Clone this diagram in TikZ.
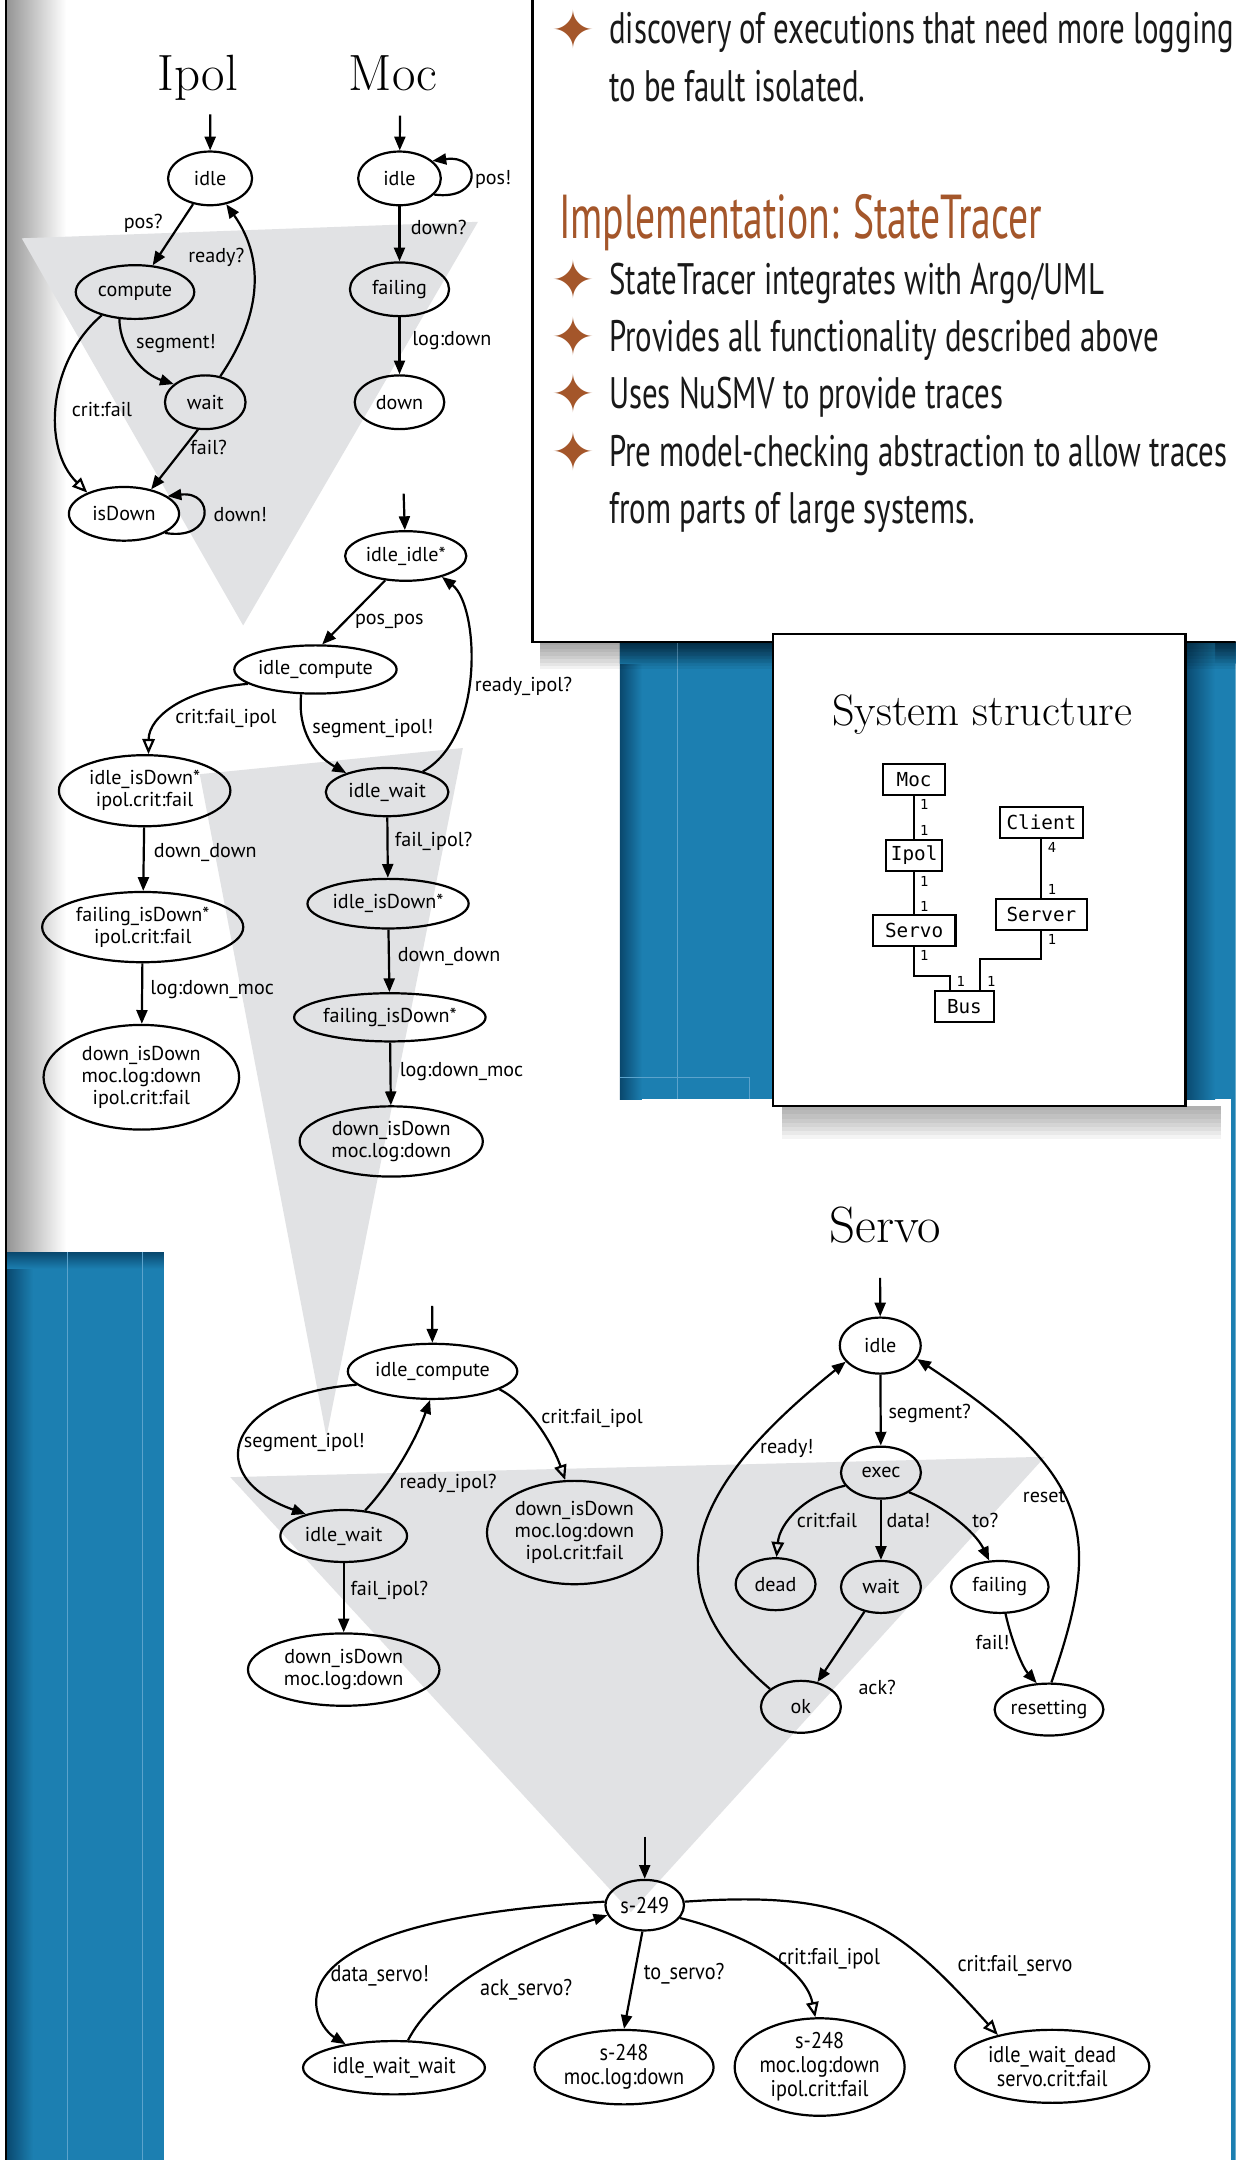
\documentclass[tikz,border=0pt]{standalone}
\usepackage{xcolor}
\usepackage{fontspec}
\usepackage{tikz}
\usetikzlibrary{arrows.meta, shapes.geometric, positioning}

\newfontfamily\diagfont{PT Sans}
\newfontfamily\narrowfont[FakeStretch=0.89]{PT Sans}
\newfontfamily\posterfont[FakeStretch=0.70]{PT Sans}
\newfontfamily\headfont[FakeStretch=0.64]{PT Sans}
\newfontfamily\codefont{DejaVu Sans Mono}
\newfontfamily\glyphfont{DejaVu Sans}

\definecolor{posterblue}{RGB}{28,127,177}
\definecolor{deepblue}{RGB}{9,72,110}
\definecolor{gridblue}{RGB}{92,163,204}
\definecolor{funnel}{RGB}{225,226,228}
\definecolor{rust}{RGB}{164,86,42}

\begin{document}
\begin{tikzpicture}[x=1pt, y=1pt,
	st/.style={draw, ellipse, line width=1.6pt, inner sep=0pt, minimum width=58pt, minimum height=38pt, align=center, font=\diagfont\fontsize{14.6}{16}\selectfont},
	nst/.style={st, font=\narrowfont\fontsize{16.5}{17.5}\selectfont},
	tr/.style={line width=1.6pt, -{Triangle[length=10pt, width=8pt]}},
	crit/.style={line width=1.6pt, -{Triangle[open, length=11pt, width=9pt]}},
	lbl/.style={inner sep=0pt, font=\diagfont\fontsize{14.6}{16}\selectfont},
	nlbl/.style={inner sep=0pt, font=\narrowfont\fontsize{16.5}{17.5}\selectfont},
	ttl/.style={anchor=base, inner sep=0pt, font=\fontsize{37}{40}\selectfont},
	cls/.style={draw, line width=1.5pt, inner sep=0pt, minimum height=23pt, font=\codefont\fontsize{14}{16}\selectfont},
	mult/.style={inner sep=0pt, font=\codefont\fontsize{10}{11}\selectfont},
	conn/.style={line width=1.5pt},
	bul/.style={anchor=base west, inner sep=0pt, text=black!90, font=\posterfont\fontsize{32}{36}\selectfont},
	bstar/.style={inner sep=0pt, text=rust, font=\glyphfont\fontsize{38}{38}\selectfont},
]
	\useasboundingbox (0,0) rectangle (897,-1568);
	\clip (0,0) rectangle (897,-1568);

	\fill[white] (0,0) rectangle (897,-1568);
	\shade[left color=black!42, right color=white] (4.4,0) rectangle (48,-909);
	\fill[posterblue] (4.4,-909) rectangle (119,-1568);
	\shade[left color=deepblue, right color=posterblue] (4.4,-909) rectangle (24,-1568);
	\shade[top color=deepblue, bottom color=posterblue] (4.4,-909) rectangle (119,-921);
	\draw[gridblue, line width=.6pt] (49,-909) -- (49,-1568) (103.5,-909) -- (103.5,-1568);
	\fill[posterblue] (450,-466) rectangle (897,-798);
	\shade[left color=deepblue, right color=posterblue] (450,-466) rectangle (466,-798);
	\shade[top color=deepblue, bottom color=posterblue] (450,-466) rectangle (897,-482);
	\shade[left color=deepblue, right color=posterblue] (860,-466) rectangle (882,-798);
	\draw[gridblue, line width=.6pt] (492,-466) -- (492,-798) (450,-782) -- (544,-782) -- (544,-798);
	\fill[posterblue] (893.8,-798) rectangle (897,-1568);
	\draw[line width=1.5pt] (4.4,0) -- (4.4,-1568);

	\fill[funnel] (15.8,-173) -- (347,-161) -- (176.5,-454) -- cycle;
	\fill[funnel] (145,-562) -- (336,-543) -- (237,-1043) -- cycle;
	\fill[funnel] (167.2,-1072.3) -- (758.5,-1057.5) -- (458,-1388) -- cycle;

	\foreach \k in {1,...,8}
		\fill[black, opacity=.05] (392,-466) rectangle (897,{-466-2.5*\k});
	\foreach \k in {1,...,8}
		\fill[black, opacity=.045] (568,-803) rectangle (886,{-803-3*\k});
	\draw[fill=white, line width=1.8pt] (386.7,5) rectangle (905,-466);
	\draw[fill=white, line width=1.8pt] (561.2,-460.4) rectangle (860.6,-803);

	\node[bstar] (s1) at (416.5,-21) {✦};
	\node[bul] (p1) at (442,-31.6) {discovery of executions that need more logging};
	\node[bul] (p2) at (442,-73.7) {to be fault isolated.};
	\node[bul, text=rust, font=\headfont\fontsize{45}{48}\selectfont] (impl) at (405.6,-173) {Implementation: StateTracer};
	\node[bstar] (s2) at (416.5,-203.1) {✦};
	\node[bul] (p3) at (442,-213.6) {StateTracer integrates with Argo/UML};
	\node[bstar] (s3) at (416.5,-244.5) {✦};
	\node[bul] (p4) at (442,-255) {Provides all functionality described above};
	\node[bstar] (s4) at (416.5,-285.8) {✦};
	\node[bul] (p5) at (442,-296.3) {Uses NuSMV to provide traces};
	\node[bstar] (s5) at (416.5,-328) {✦};
	\node[bul] (p6) at (442,-338.5) {Pre model-checking abstraction to allow traces};
	\node[bul] (p7) at (442,-379.7) {from parts of large systems.};

	\node[ttl, font=\fontsize{32}{34}\selectfont] (tsys) at (713,-526.5) {System structure};
	\node[cls, minimum width=45pt] (smoc) at (663.6,-565.9) {Moc};
	\node[cls, minimum width=40.5pt] (sipol) at (663.6,-621) {Ipol};
	\node[cls, minimum width=60pt] (sservo) at (663.6,-675.5) {Servo};
	\node[cls, minimum width=60pt] (sclient) at (756,-597) {Client};
	\node[cls, minimum width=65.6pt] (sserver) at (756,-663.9) {Server};
	\node[cls, minimum width=43pt] (sbus) at (700.1,-730.7) {Bus};
	\coordinate (bendA) at (663.6,-708.4);
	\coordinate (bendB) at (756,-696.2);
	\draw[conn] (smoc) -- (sipol);
	\draw[conn] (sipol) -- (sservo);
	\draw[conn] (sclient) -- (sserver);
	\draw[conn] (sservo) -- (bendA) -| ([xshift=-10.6pt]sbus.north);
	\draw[conn] (sserver) -- (bendB) -| ([xshift=11.4pt]sbus.north);
	\node[mult] (m1) at (671,-584.3) {1};
	\node[mult] (m2) at (671,-602.9) {1};
	\node[mult] (m3) at (671,-639.7) {1};
	\node[mult] (m4) at (671,-658.1) {1};
	\node[mult] (m5) at (763.7,-615.4) {4};
	\node[mult] (m6) at (763.7,-645.7) {1};
	\node[mult] (m7) at (763.7,-682) {1};
	\node[mult] (m8) at (671,-693.6) {1};
	\node[mult] (m9) at (697.5,-712.3) {1};
	\node[mult] (m10) at (719.5,-712.3) {1};

	\node[ttl] (tipol) at (143.5,-65.6) {Ipol};
	\node[ttl] (tmoc) at (285.5,-65.6) {Moc};
	\node[st, minimum width=61pt, minimum height=39pt] (iidle) at (152.5,-129.5) {idle};
	\node[st, minimum width=86pt, minimum height=39pt] (icomp) at (98,-212) {compute};
	\node[st, minimum width=58.5pt, minimum height=39pt] (iwait) at (149,-292) {wait};
	\node[st, minimum width=80pt, minimum height=39pt] (idown) at (90,-373) {isDown};
	\coordinate (iinit) at (152.6,-83);
	\draw[tr] (iinit) -- (iidle);
	\draw[tr] (iidle) -- (icomp);
	\draw[tr] (iwait.60) .. controls (188,-232) and (194,-190) .. (iidle.-58);
	\draw[tr] (icomp.-120) .. controls (87,-255) and (105,-272) .. (iwait.150);
	\draw[crit] (icomp.-145) .. controls (35,-262) and (30,-325) .. (idown.150);
	\draw[tr] (iwait.-105) -- (idown.42);
	\draw[tr] (idown.-25) .. controls (156,-393) and (156,-356) .. (idown.22);
	\node[lbl] (l1) at (104,-162) {pos?};
	\node[lbl] (l2) at (157,-187) {ready?};
	\node[lbl] (l3) at (127.7,-249.4) {segment!};
	\node[lbl] (l4) at (74,-297.6) {crit:fail};
	\node[lbl] (l5) at (151.5,-324.7) {fail?};
	\node[lbl] (l6) at (174.5,-373.5) {down!};

	\node[st, minimum width=60pt, minimum height=39pt] (midle) at (290,-129.5) {idle};
	\node[st, minimum width=72pt, minimum height=39pt] (mfail) at (290,-210) {failing};
	\node[st, minimum width=65pt, minimum height=39pt] (mdown) at (290,-292) {down};
	\coordinate (minit) at (290.4,-84);
	\draw[tr] (minit) -- (midle);
	\draw[tr] (midle.-25) .. controls (350,-146) and (350,-112) .. (midle.28);
	\draw[tr] (midle) -- (mfail);
	\draw[tr] (mfail) -- (mdown);
	\node[lbl] (l7) at (358,-130) {pos!};
	\node[lbl] (l8) at (318.5,-165) {down?};
	\node[lbl] (l9) at (328,-247) {log:down};

	\node[st, minimum width=88pt, minimum height=36pt] (cii) at (294.5,-403.6) {idle\_idle*};
	\node[st, minimum width=116pt, minimum height=35pt] (cic) at (229,-486) {idle\_compute};
	\node[st, minimum width=124.5pt, minimum height=51.6pt] (cid) at (105,-574) {idle\_isDown*\\ipol.crit:fail};
	\node[st, minimum width=89pt, minimum height=35pt] (ciw) at (281,-575) {idle\_wait};
	\node[st, minimum width=146pt, minimum height=51pt] (cfd) at (103.6,-673) {failing\_isDown*\\ipol.crit:fail};
	\node[st, minimum width=117pt, minimum height=36pt] (cid2) at (281.7,-656) {idle\_isDown*};
	\node[st, minimum width=142pt, minimum height=76pt] (cdd) at (102.6,-782) {down\_isDown\\moc.log:down\\ipol.crit:fail};
	\node[st, minimum width=139pt, minimum height=35pt] (cfd2) at (283,-738.5) {failing\_isDown*};
	\node[st, minimum width=133pt, minimum height=51pt] (cdd2) at (284,-828.6) {down\_isDown\\moc.log:down};
	\coordinate (cinit) at (293,-358.4);
	\draw[tr] (cinit) -- (cii);
	\draw[tr] (cii.-130) -- (cic.75);
	\draw[tr] (ciw.30) .. controls (352,-535) and (348,-440) .. (cii.-30);
	\draw[crit] (cic.-168) .. controls (135,-500) and (108,-520) .. (cid.84);
	\draw[tr] (cic.-120) .. controls (216,-530) and (228,-548) .. (ciw.155);
	\draw[tr] (cid) -- (cfd);
	\draw[tr] (cfd) -- (cdd);
	\draw[tr] (ciw) -- (cid2);
	\draw[tr] (cid2) -- (cfd2);
	\draw[tr] (cfd2) -- (cdd2);
	\node[lbl] (l10) at (282.6,-451) {pos\_pos};
	\node[lbl] (l11) at (380,-498) {ready\_ipol?};
	\node[lbl] (l12) at (164,-521.5) {crit:fail\_ipol};
	\node[lbl] (l13) at (270.6,-529) {segment\_ipol!};
	\node[lbl] (l14) at (149,-619) {down\_down};
	\node[lbl] (l15) at (314.8,-610.8) {fail\_ipol?};
	\node[lbl] (l16) at (326,-694) {down\_down};
	\node[lbl] (l17) at (154,-718) {log:down\_moc};
	\node[lbl] (l18) at (335,-778) {log:down\_moc};

	\node[st, minimum width=123pt, minimum height=40pt] (bic) at (314,-995.5) {idle\_compute};
	\node[st, minimum width=92pt, minimum height=37.7pt] (biw) at (249.5,-1115) {idle\_wait};
	\node[st, minimum width=127pt, minimum height=75pt] (bdd3) at (417,-1112.5) {down\_isDown\\moc.log:down\\ipol.crit:fail};
	\node[st, minimum width=139pt, minimum height=52.5pt] (bdd2) at (249.5,-1212) {down\_isDown\\moc.log:down};
	\coordinate (binit) at (313.7,-948);
	\draw[tr] (binit) -- (bic);
	\draw[tr] (bic.-170) .. controls (165,-1012) and (145,-1072) .. (biw.150);
	\draw[tr] (biw.50) .. controls (285,-1075) and (302,-1045) .. (bic.-95);
	\draw[crit] (bic.-15) .. controls (385,-1020) and (402,-1050) .. (bdd3.100);
	\draw[tr] (biw) -- (bdd2);
	\node[lbl] (l19) at (220.9,-1046.9) {segment\_ipol!};
	\node[lbl] (l20) at (325.3,-1076.8) {ready\_ipol?};
	\node[lbl] (l21) at (429.8,-1029.8) {crit:fail\_ipol};
	\node[lbl] (l22) at (282.6,-1154.7) {fail\_ipol?};

	\node[ttl] (tservo) at (642.7,-902) {Servo};
	\node[st, minimum width=58.7pt, minimum height=40.7pt] (sidle) at (639,-976.8) {idle};
	\node[st, minimum height=37.7pt] (sexec) at (639.5,-1069) {exec};
	\node[st, minimum height=37.7pt] (sdead) at (563,-1150) {dead};
	\node[st, minimum height=37.7pt] (swait) at (639.5,-1152) {wait};
	\node[st, minimum width=70.8pt, minimum height=37.7pt] (sfail) at (725.8,-1152) {failing};
	\node[st, minimum height=37.7pt] (sok) at (581.4,-1239) {ok};
	\node[st, minimum width=79pt, minimum height=37.7pt] (sreset) at (761.5,-1241) {resetting};
	\coordinate (sinit) at (638.9,-927.7);
	\draw[tr] (sinit) -- (sidle);
	\draw[tr] (sidle) -- (sexec);
	\draw[crit] (sexec.-160) .. controls (585,-1085) and (566,-1105) .. (sdead.88);
	\draw[tr] (sexec) -- (swait);
	\draw[tr] (sexec.-35) .. controls (685,-1093) and (708,-1112) .. (sfail.112);
	\draw[tr] (swait) -- (sok);
	\draw[tr] (sok.150) .. controls (470,-1150) and (500,-1080) .. (sidle.-155);
	\draw[tr] (sfail.-78) .. controls (734,-1190) and (742,-1210) .. (sreset.115);
	\draw[tr] (sreset.85) .. controls (800,-1115) and (795,-1072) .. (sidle.-20);
	\node[lbl] (l23) at (674.9,-1025.8) {segment?};
	\node[lbl] (l24) at (571.2,-1051.5) {ready!};
	\node[lbl] (l25) at (758,-1086.2) {reset};
	\node[lbl] (l26) at (600.3,-1103.7) {crit:fail};
	\node[lbl] (l27) at (659.5,-1103.7) {data!};
	\node[lbl] (l28) at (715.3,-1103.7) {to?};
	\node[lbl] (l29) at (720.5,-1192.4) {fail!};
	\node[lbl] (l30) at (636.8,-1225) {ack?};

	\node[nst, minimum width=57pt, minimum height=36.7pt] (t249) at (468,-1383) {s-249};
	\node[nst, minimum width=132pt, minimum height=38.7pt] (tww) at (286,-1501) {idle\_wait\_wait};
	\node[nst, minimum width=130pt, minimum height=54pt] (t248a) at (453,-1500.6) {s-248\\moc.log:down};
	\node[nst, minimum width=120pt, minimum height=61.6pt] (t248b) at (595,-1500.5) {s-248\\moc.log:down\\ipol.crit:fail};
	\node[nst, minimum width=141pt, minimum height=53pt] (twd) at (763.8,-1500) {idle\_wait\_dead\\servo.crit:fail};
	\coordinate (tinit) at (468,-1333.3);
	\draw[tr] (tinit) -- (t249);
	\draw[tr] (t249.175) .. controls (180,-1395) and (228,-1470) .. (tww.154);
	\draw[tr] (tww.63) .. controls (315,-1445) and (365,-1415) .. (t249.-165);
	\draw[tr] (t249.-95) -- (t248a.north);
	\draw[crit] (t249.-20) .. controls (545,-1405) and (585,-1430) .. (t248b.95);
	\draw[crit] (t249.5) .. controls (620,-1372) and (650,-1395) .. (twd.150);
	\node[nlbl] (l31) at (275.7,-1434.2) {data\_servo!};
	\node[nlbl] (l32) at (382,-1444.4) {ack\_servo?};
	\node[nlbl] (l33) at (496.6,-1433) {to\_servo?};
	\node[nlbl] (l34) at (601.8,-1422) {crit:fail\_ipol};
	\node[nlbl] (l35) at (736.8,-1427) {crit:fail\_servo};
\end{tikzpicture}
\end{document}
